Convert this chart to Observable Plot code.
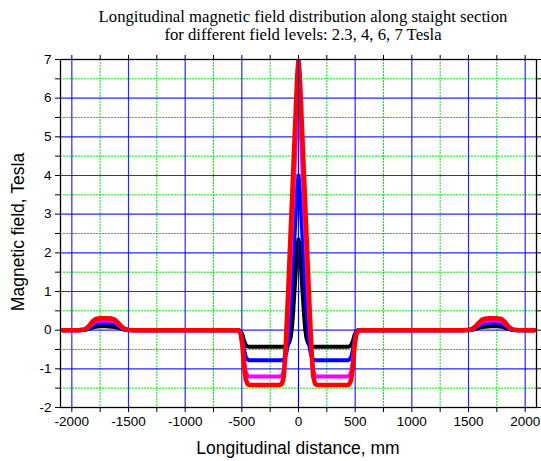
<!DOCTYPE html>
<html><head><meta charset="utf-8">
<script src="https://cdn.jsdelivr.net/npm/d3@7"></script>
<script src="https://cdn.jsdelivr.net/npm/@observablehq/plot@0.6"></script>
<style>body{margin:0;background:#fff}</style>
</head><body><div id="chart"></div>
<script>
const titleLines = ["Longitudinal magnetic field distribution along staight section", "for different field levels: 2.3, 4, 6, 7 Tesla"];
const xLabel = "Longitudinal distance, mm";
const yLabel = "Magnetic field, Tesla";
const xTickLabels = [-2000,-1500,-1000,-500,0,500,1000,1500,2000];
const xMinorTicks = [-1750,-1250,-750,-250,250,750,1250,1750];
const yTickLabels = [-2,-1,0,1,2,3,4,5,6,7];
const yMinorTicks = [-1.5,-0.5,0.5,1.5,2.5,3.5,4.5,5.5,6.5];
const seriesNames = ["2.3 T","4 T","6 T","7 T"];
const seriesColors = ["#000000","#0000ff","#ff00ff","#ff0000"];

const xs = [-2080,-1930,-1890,-1865,-1840,-1815,-1790,-1750,-1700,-1650,-1620,-1590,-1560,-1530,-1500,-1450,-1000,-545,-525,-510,-495,-480,-465,-450,-435,-300,-165,-145,-130,-120,-110,-100,-90,-80,-70,-60,-50,-40,-30,-20,-10,0,10,20,30,40,50,60,70,80,90,100,110,120,130,145,165,300,435,450,465,480,495,510,525,545,1000,1450,1500,1530,1560,1590,1620,1650,1700,1750,1790,1815,1840,1865,1890,1930,2080];

const black = [0,0,0.005,0.02,0.04,0.07,0.09,0.1,0.1,0.09,0.08,0.06,0.03,0.01,0,0,0,0,0,-0.03,-0.12,-0.28,-0.38,-0.42,-0.43,-0.43,-0.43,-0.43,-0.43,-0.43,-0.42,-0.4,-0.36,-0.3,-0.2,0.0,0.35,0.8,1.25,1.75,2.15,
2.35,
2.15,1.75,1.25,0.8,0.35,0.0,-0.2,-0.3,-0.36,-0.4,-0.42,-0.43,-0.43,-0.43,-0.43,-0.43,-0.43,-0.42,-0.38,-0.28,-0.12,-0.03,0,0,0,0,0,0.01,0.03,0.06,0.08,0.09,0.1,0.1,0.09,0.07,0.04,0.02,0.005,0,0];

const blue = [0,0,0.01,0.03,0.08,0.13,0.16,0.18,0.18,0.17,0.16,0.11,0.05,0.015,0.005,0,0,0,-0.01,-0.05,-0.22,-0.52,-0.7,-0.76,-0.78,-0.78,-0.78,-0.78,-0.76,-0.71,-0.62,-0.48,-0.25,0.1,0.55,1.05,1.6,2.15,2.7,3.25,3.75,
4.0,
3.75,3.25,2.7,2.15,1.6,1.05,0.55,0.1,-0.25,-0.48,-0.62,-0.71,-0.76,-0.78,-0.78,-0.78,-0.78,-0.76,-0.7,-0.52,-0.22,-0.05,-0.01,0,0,0,0.005,0.015,0.05,0.11,0.16,0.17,0.18,0.18,0.16,0.13,0.08,0.03,0.01,0,0];

const magenta = [0,0,0.02,0.05,0.11,0.18,0.23,0.25,0.25,0.24,0.22,0.15,0.07,0.02,0.01,0,0,0,-0.02,-0.08,-0.34,-0.8,-1.08,-1.17,-1.2,-1.2,-1.2,-1.17,-1.05,-0.8,-0.4,0.1,0.65,1.25,1.9,2.55,3.2,3.85,4.5,5.15,5.75,
6.05,
5.75,5.15,4.5,3.85,3.2,2.55,1.9,1.25,0.65,0.1,-0.4,-0.8,-1.05,-1.17,-1.2,-1.2,-1.2,-1.17,-1.08,-0.8,-0.34,-0.08,-0.02,0,0,0,0.01,0.02,0.07,0.15,0.22,0.24,0.25,0.25,0.23,0.18,0.11,0.05,0.02,0,0];

const red = [0,0.005,0.02,0.06,0.14,0.23,0.29,0.31,0.31,0.3,0.27,0.19,0.09,0.03,0.01,0,0,0,-0.02,-0.1,-0.4,-0.95,-1.28,-1.39,-1.42,-1.42,-1.42,-1.38,-1.2,-0.8,-0.2,0.45,1.1,1.8,2.5,3.2,3.9,4.6,5.3,6.0,6.65,
7.0,
6.65,6.0,5.3,4.6,3.9,3.2,2.5,1.8,1.1,0.45,-0.2,-0.8,-1.2,-1.38,-1.42,-1.42,-1.42,-1.39,-1.28,-0.95,-0.4,-0.1,-0.02,0,0,0,0.01,0.03,0.09,0.19,0.27,0.3,0.31,0.31,0.29,0.23,0.14,0.06,0.02,0.005,0];

const seriesValues = [black, blue, magenta, red];
const seriesWidths = [4, 4, 4, 4.5];

const lineMarks = seriesValues.map((vals, k) =>
  Plot.line(xs.map((x, i) => ({x, v: vals[i], s: seriesNames[k]})), {
    x: "x", y: "v", stroke: seriesColors[k], strokeWidth: seriesWidths[k],
    strokeLinejoin: "round", strokeLinecap: "round", clip: true
  })
);

const sans = "'Liberation Sans', Arial, sans-serif";
const plot = Plot.plot({
  width: 541, height: 461,
  marginTop: 59, marginBottom: 54, marginLeft: 60, marginRight: 5,
  style: {fontFamily: sans, fontSize: "13px", color: "#000", background: "#fff"},
  x: {domain: [-2100, 2100], label: null},
  y: {domain: [-2, 7], label: null},
  marks: [
    Plot.gridX(xMinorTicks, {stroke: "#00ee00", strokeOpacity: 1, strokeWidth: 1, strokeDasharray: "2,1"}),
    Plot.gridY(yMinorTicks, {stroke: "#00ee00", strokeOpacity: 1, strokeWidth: 1, strokeDasharray: "2,1"}),
    Plot.gridX(xTickLabels, {stroke: "#0000ff", strokeOpacity: 0.85, strokeWidth: 1.2}),
    Plot.gridY(yTickLabels.filter(d => d > -2 && d < 7), {stroke: "#0000ff", strokeOpacity: 0.85, strokeWidth: 1.2}),
    ...lineMarks,
    Plot.gridX([0], {stroke: "#0000ff", strokeOpacity: 1, strokeWidth: 1}),
    Plot.frame({stroke: "#000", strokeWidth: 1.3}),
    Plot.axisX([...xTickLabels, ...xMinorTicks], {anchor: "bottom", tickSize: 5, tickPadding: 4, tickFormat: d => xTickLabels.includes(d) ? String(d) : "", label: null, fontSize: 13.5}),
    Plot.axisX([...xTickLabels, ...xMinorTicks], {anchor: "top", tickSize: 5, tickFormat: () => "", label: null}),
    Plot.axisY([...yTickLabels, ...yMinorTicks], {anchor: "left", tickSize: 5, tickPadding: 4, tickFormat: d => Number.isInteger(d) ? String(d) : "", label: null, fontSize: 13.5}),
    Plot.axisY([...yTickLabels, ...yMinorTicks], {anchor: "right", tickSize: 4, tickFormat: () => "", label: null})
  ]
});
document.getElementById("chart").appendChild(plot);

const svg = d3.select(plot);
svg.append("g").selectAll("text").data(titleLines).join("text")
  .attr("x", 303).attr("y", (d, i) => 22 + i * 18)
  .attr("text-anchor", "middle")
  .style("font-family", "'Liberation Serif', 'Times New Roman', serif")
  .style("font-size", "16.7px").attr("fill", "#000")
  .text(d => d);
svg.append("text").attr("x", 298).attr("y", 454).attr("text-anchor", "middle")
  .style("font-family", sans).style("font-size", "17.5px").attr("fill", "#000").text(xLabel);
svg.append("text").attr("transform", "translate(24,232) rotate(-90)").attr("text-anchor", "middle")
  .style("font-family", sans).style("font-size", "17.5px").attr("fill", "#000").text(yLabel);
</script>
</body></html>
